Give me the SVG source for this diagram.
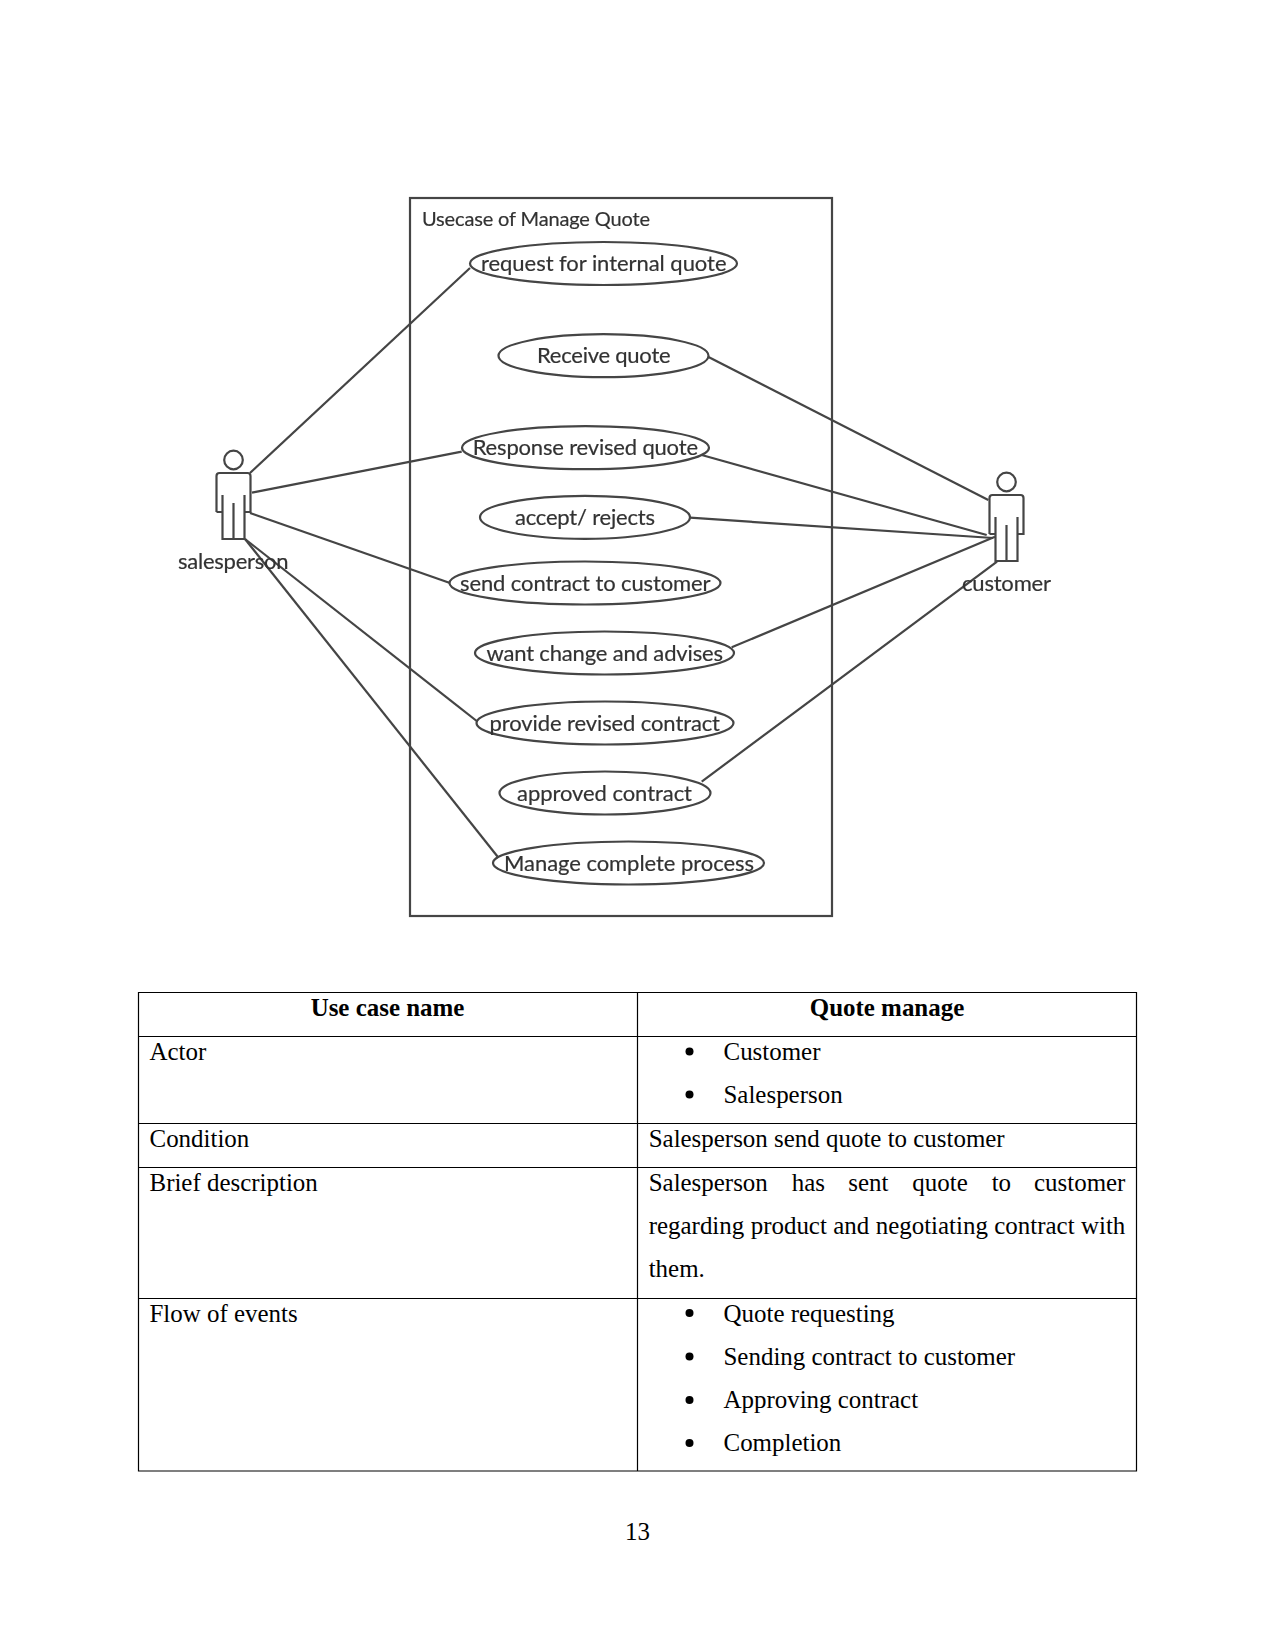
<svg xmlns="http://www.w3.org/2000/svg" width="1275" height="1651" viewBox="0 0 1275 1651">
<style>
.s{fill:none;stroke:#444;stroke-width:2.2}
.u{font-family:"Lato","Open Sans",sans-serif;font-size:22px;fill:#333;stroke:#333;stroke-width:.2}
.t{font-family:"Liberation Serif","Times New Roman",serif;font-size:24.95px;fill:#000}
.b{font-weight:bold}
.g{fill:none;stroke:#000;stroke-width:1.2}
</style>
<defs>
<filter id="soft" x="-5%" y="-5%" width="110%" height="110%"><feGaussianBlur stdDeviation="0.6"/></filter>
<g id="actor"><circle cx="0" cy="-13" r="9.3" class="s"/><path class="s" d="M-17 39V3Q-17 0-14 0H14Q17 0 17 3V39H11M-17 39H-11M-11 22V66H11V22M0 30V66"/></g>
</defs>
<rect width="1275" height="1651" fill="#fff"/>
<g filter="url(#soft)">
<g id="connectors" class="s">
<path d="M250 473L470 268"/><path d="M252 492.7L461.7 451.7"/><path d="M250 513L450 583"/><path d="M245 539L476.7 721"/><path d="M245 539L497.7 856.7"/>
<path d="M708.5 357L988.3 500"/><path d="M701.7 455L986.7 535"/><path d="M690 517.7L993 538"/><path d="M731.7 647.3L995 536.7"/><path d="M701.7 781.7L997 561.7"/>
</g>
<g id="system"><rect class="s" x="410" y="198" width="422" height="718"/><text class="u" x="422" y="226" style="font-size:20px" textLength="228">Usecase of Manage Quote</text></g>
<g id="uc-request"><ellipse class="s" cx="603.5" cy="263.5" rx="133.5" ry="21.5"/><text class="u" x="481" y="271.2" textLength="245.5">request for internal quote</text></g>
<g id="uc-receive"><ellipse class="s" cx="603.5" cy="355.7" rx="105" ry="21.5"/><text class="u" x="537" y="362.8" textLength="133.6">Receive quote</text></g>
<g id="uc-response"><ellipse class="s" cx="585.5" cy="447.7" rx="123.5" ry="21.5"/><text class="u" x="472.7" y="455" textLength="225.3">Response revised quote</text></g>
<g id="uc-accept"><ellipse class="s" cx="585" cy="517.3" rx="105" ry="21.5"/><text class="u" x="515" y="525" textLength="140">accept/ rejects</text></g>
<g id="uc-send"><ellipse class="s" cx="585" cy="583" rx="135.5" ry="21.5"/><text class="u" x="460" y="591" textLength="250.6">send contract to customer</text></g>
<g id="uc-want"><ellipse class="s" cx="604.5" cy="653" rx="129.5" ry="21.5"/><text class="u" x="486.4" y="661" textLength="236.6">want change and advises</text></g>
<g id="uc-provide"><ellipse class="s" cx="605" cy="723" rx="128.5" ry="21.5"/><text class="u" x="489.6" y="731" textLength="230.4">provide revised contract</text></g>
<g id="uc-approved"><ellipse class="s" cx="605" cy="793" rx="105.5" ry="21.5"/><text class="u" x="517" y="801" textLength="175">approved contract</text></g>
<g id="uc-manage"><ellipse class="s" cx="628.5" cy="863" rx="135.5" ry="21.5"/><text class="u" x="504" y="871" textLength="250">Manage complete process</text></g>
<g id="actor-salesperson"><use href="#actor" x="233.5" y="473"/><text class="u" x="178" y="569" textLength="110.5">salesperson</text></g>
<g id="actor-customer"><use href="#actor" x="1006.5" y="495"/><text class="u" x="962" y="591" textLength="89">customer</text></g>
</g>
<g id="table">
<path class="g" d="M138.5 992.5H1136.5V1471H138.5ZM637.5 992.5V1471M138.5 1036.5H1136.5M138.5 1123.5H1136.5M138.5 1167.5H1136.5M138.5 1298.5H1136.5"/>
<text class="t b" x="387.5" y="1016" text-anchor="middle">Use case name</text>
<text class="t b" x="887" y="1016" text-anchor="middle">Quote manage</text>
<text class="t" x="149.5" y="1060">Actor</text>
<text class="t" x="149.5" y="1147">Condition</text>
<text class="t" x="149.5" y="1191">Brief description</text>
<text class="t" x="149.5" y="1321.5">Flow of events</text>
<g id="bullets" fill="#000"><circle cx="689.5" cy="1051.5" r="4"/><circle cx="689.5" cy="1094.5" r="4"/><circle cx="689.5" cy="1313" r="4"/><circle cx="689.5" cy="1356.5" r="4"/><circle cx="689.5" cy="1400" r="4"/><circle cx="689.5" cy="1443" r="4"/></g>
<text class="t" x="723.5" y="1060">Customer</text>
<text class="t" x="723.5" y="1103">Salesperson</text>
<text class="t" x="648.7" y="1147">Salesperson send quote to customer</text>
<text class="t" y="1191"><tspan x="648.7">Salesperson </tspan><tspan x="791.7">has </tspan><tspan x="848.3">sent </tspan><tspan x="912.3">quote </tspan><tspan x="991.7">to </tspan><tspan x="1034">customer</tspan></text>
<text class="t" y="1234"><tspan x="648.7">regarding </tspan><tspan x="750.7">product </tspan><tspan x="833.3">and </tspan><tspan x="875.7">negotiating </tspan><tspan x="994.3">contract </tspan><tspan x="1081">with</tspan></text>
<text class="t" x="648.7" y="1277">them.</text>
<text class="t" x="723.5" y="1321.5">Quote requesting</text>
<text class="t" x="723.5" y="1365">Sending contract to customer</text>
<text class="t" x="723.5" y="1408">Approving contract</text>
<text class="t" x="723.5" y="1451">Completion</text>
</g>
<text id="page-number" class="t" x="637.5" y="1540" text-anchor="middle">13</text>
</svg>
